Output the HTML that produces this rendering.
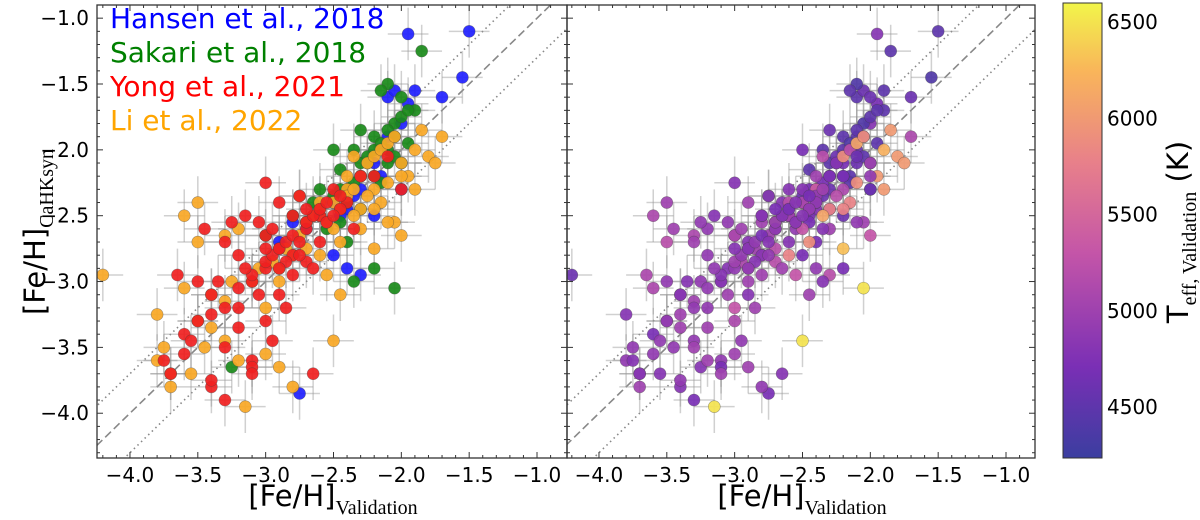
<!DOCTYPE html>
<html><head><meta charset="utf-8">
<style>
body{margin:0;background:#fff;}
svg{display:block;font-family:"DejaVu Sans","Liberation Sans",sans-serif;}
</style></head>
<body>
<svg id="chart" width="1200" height="520" viewBox="0 0 1200 520" xmlns="http://www.w3.org/2000/svg">
<defs>
<linearGradient id="plasma" x1="0" y1="1" x2="0" y2="0">
<stop offset="0" stop-color="#3b3ea0"/>
<stop offset="0.2" stop-color="#7a2fb5"/>
<stop offset="0.45" stop-color="#c455a8"/>
<stop offset="0.65" stop-color="#e8808a"/>
<stop offset="0.85" stop-color="#f9b55a"/>
<stop offset="1" stop-color="#f2f54a"/>
</linearGradient>
<clipPath id="clipL"><rect x="97" y="5" width="470" height="453"/></clipPath>
<clipPath id="clipR"><rect x="567" y="5" width="468" height="453"/></clipPath>
</defs>
<g id="left" clip-path="url(#clipL)"></g>
<g id="right" clip-path="url(#clipR)"></g>
<g id="axes"></g>
<g font-size="28">
<text x="110" y="28" fill="#0000ff">Hansen et al., 2018</text>
<text x="110" y="62" fill="#008000">Sakari et al., 2018</text>
<text x="110" y="96" fill="#ff0000">Yong et al., 2021</text>
<text x="110" y="130" fill="#ffa500">Li et al., 2022</text>
</g>
<rect x="1063" y="3" width="39" height="455" fill="url(#plasma)" stroke="#333" stroke-width="1"/>
<text transform="translate(45,232) rotate(-90)" text-anchor="middle" font-size="29">[Fe/H]<tspan font-family="Liberation Serif,serif" font-size="20" dy="8">CaHKsyn</tspan></text>
<text x="333" y="506" text-anchor="middle" font-size="29">[Fe/H]<tspan font-family="Liberation Serif,serif" font-size="20" dy="8">Validation</tspan></text>
<text x="802" y="506" text-anchor="middle" font-size="29">[Fe/H]<tspan font-family="Liberation Serif,serif" font-size="20" dy="8">Validation</tspan></text>
<text transform="translate(1188,232) rotate(-90)" text-anchor="middle" font-size="29">T<tspan font-family="Liberation Serif,serif" font-size="20" dy="8">eff, Validation</tspan><tspan dy="-8">  (K)</tspan></text>
</svg>
<script>
const xTicks=[-4.0,-3.5,-3.0,-2.5,-2.0,-1.5,-1.0];
const yTicks=[-1.0,-1.5,-2.0,-2.5,-3.0,-3.5,-4.0];
const cbTicks=[4500,5000,5500,6000,6500];
const hansenX=[-1.5,-1.55,-1.7,-1.9,-1.95,-2.0,-2.1,-2.2,-2.3,-2.4,-2.5,-2.6,-2.7,-2.8,-2.9,-2.5,-2.4,-2.3,-2.75,-2.2,-2.0,-1.95,-2.1,-2.05,-2.45,-2.35,-2.15];
const hansenY=[-1.1,-1.45,-1.6,-1.55,-1.65,-1.8,-1.9,-2.1,-2.3,-2.45,-2.4,-2.5,-2.6,-2.55,-2.7,-2.8,-2.9,-2.95,-3.85,-2.5,-2.3,-1.12,-1.6,-1.55,-2.5,-2.35,-2.2];
const hansenT=[4500,4400,4600,4500,4700,4800,4500,4700,4600,4800,4900,4700,4600,5000,4800,4700,4900,5200,4700,4600,4500,4800,4500,4600,4700,4600,4500];
const sakariX=[-1.85,-2.1,-2.15,-2.0,-1.9,-2.05,-2.1,-2.2,-2.0,-2.3,-2.35,-2.4,-2.5,-2.6,-2.45,-2.55,-2.2,-2.35,-2.05,-2.4,-2.65,-2.8,-3.0,-3.25,-2.15,-2.25,-1.95,-2.3,-2.45,-2.5,-2.3,-2.25,-2.2,-2.15,-2.1,-2.05,-2.0,-2.35,-2.4,-2.45,-2.2,-2.1,-2.3,-2.05,-1.95];
const sakariY=[-1.25,-1.5,-1.55,-1.6,-1.7,-1.8,-2.0,-1.9,-2.1,-2.2,-2.0,-2.3,-2.35,-2.3,-2.55,-2.6,-2.9,-3.0,-3.05,-2.7,-2.4,-2.5,-2.65,-3.65,-2.25,-2.1,-1.95,-1.85,-2.15,-2.0,-2.1,-2.05,-2.0,-1.95,-1.85,-1.9,-1.75,-2.25,-2.4,-2.3,-2.2,-2.1,-2.45,-2.05,-1.7];
const sakariT=[4500,4400,4500,4600,4500,4400,4600,4500,4400,4600,4500,4700,4600,4800,4700,4900,4700,4800,6500,4700,4800,4900,5000,4800,4500,4600,4500,4600,4500,4700,4500,4600,4500,4400,4500,4600,4500,4700,4600,4700,4500,4600,4700,4500,4500];
const yongX=[-3.2,-3.3,-3.1,-3.0,-2.9,-2.8,-2.7,-2.6,-3.4,-3.5,-3.6,-3.7,-3.3,-3.2,-3.0,-2.9,-3.1,-2.8,-2.5,-2.4,-2.3,-2.6,-2.7,-3.5,-3.4,-3.3,-3.2,-3.6,-3.75,-3.0,-2.95,-2.85,-3.15,-3.05,-2.75,-2.65,-2.55,-2.45,-2.2,-2.1,-3.45,-3.25,-3.35,-3.65,-3.55,-2.9,-3.0,-3.1,-2.0,-2.35,-3.4,-2.65,-3.1,
 -3.2,-3.1,-3.0,-2.95,-2.9,-2.85,-2.8,-2.75,-2.7,-2.65,-2.6,-2.55,-3.05,-3.15,-2.85,-2.75,-2.95,-3.0,-2.7,-2.8,-3.3,-3.4,-2.5,-2.45,-2.9];
const yongY=[-2.8,-2.7,-3.0,-2.9,-2.75,-2.8,-2.6,-2.5,-3.1,-3.3,-3.4,-3.7,-3.5,-3.2,-3.3,-3.1,-3.6,-2.95,-2.3,-2.4,-2.2,-2.7,-2.85,-3.0,-3.8,-3.9,-3.35,-3.55,-3.6,-2.65,-3.45,-3.2,-2.5,-2.55,-2.35,-2.9,-2.55,-2.45,-2.2,-2.05,-2.6,-2.55,-3.0,-2.95,-3.45,-2.4,-2.25,-3.65,-2.3,-2.6,-3.75,-3.7,-3.7,
 -3.05,-2.95,-2.85,-2.8,-2.75,-2.7,-2.65,-2.7,-2.55,-2.5,-2.45,-2.4,-3.1,-2.9,-2.85,-2.8,-2.6,-2.75,-2.45,-2.5,-3.2,-3.25,-2.5,-2.35,-2.9];
const yongT=[4900,5000,4800,4900,5100,4800,4900,5000,4800,4900,4700,4800,5000,4900,5100,4800,4900,5000,4800,4900,4700,4800,5200,4900,4800,4700,5000,4900,4800,5100,4900,5000,4800,4900,4700,5000,4800,4900,4700,4600,5000,4900,4800,5100,4900,5000,4800,4700,4600,4800,4900,4800,5000,
 4900,4800,5000,4900,4800,4900,4700,4800,4900,4800,4700,4800,5000,4900,4800,4900,5000,4800,4700,4800,4900,5000,4800,4700,4900];
const liX=[-4.2,-3.8,-3.7,-3.75,-3.5,-3.4,-3.3,-3.2,-3.6,-3.5,-3.1,-3.0,-2.9,-2.8,-2.7,-2.6,-2.5,-2.4,-2.3,-2.2,-2.1,-2.0,-1.9,-1.8,-1.7,-2.5,-2.45,-2.55,-3.2,-3.0,-2.8,-2.6,-3.4,-3.3,-2.9,-2.7,-2.35,-2.25,-2.15,-2.05,-1.95,-2.45,-2.75,-3.6,-3.15,-2.9,-2.4,-1.85,-2.0,-2.6,-3.55,-1.75,-2.2,
 -2.4,-2.35,-2.3,-2.25,-2.2,-2.6,-2.65,-2.7,-2.5,-2.45,-2.15,-2.1,-2.05,-2.0,-3.5,-3.45,-3.7,-3.8,-2.85,-2.95,-3.05,-2.55,-2.3,-2.2,-1.9,-2.1,-3.3,-3.25,-2.75,-2.35];
const liY=[-2.95,-3.25,-3.8,-3.5,-2.4,-3.1,-3.45,-3.6,-2.5,-2.7,-3.0,-3.2,-2.9,-2.8,-2.75,-2.5,-2.6,-2.2,-2.45,-2.3,-2.25,-2.1,-2.0,-2.05,-1.9,-3.45,-3.1,-2.95,-2.6,-3.55,-3.8,-2.4,-3.35,-2.65,-3.0,-2.55,-2.5,-2.35,-2.4,-2.55,-2.2,-2.7,-2.35,-3.05,-3.95,-3.65,-2.3,-1.85,-2.65,-2.8,-3.7,-2.1,-2.75,
 -2.35,-2.3,-2.2,-2.1,-2.05,-2.45,-2.5,-2.55,-2.4,-2.45,-2.0,-1.95,-1.9,-2.2,-3.3,-3.5,-3.7,-3.6,-2.75,-2.85,-2.9,-2.55,-2.6,-2.45,-2.3,-2.55,-3.15,-3.0,-2.65,-2.05];
const liT=[4600,4800,5000,4900,5000,5100,4900,5000,5100,5200,5000,5300,5100,5400,5200,5000,5300,5000,5800,5100,5900,5000,6200,6000,5100,6500,5000,5300,4900,5000,4900,5200,5000,5100,5000,5400,6100,5200,5800,5000,6000,5900,6300,5100,6500,5000,5400,6000,5300,5800,4800,6000,6300,
 4900,5000,5200,4800,5900,5000,4900,6400,5100,5000,5200,6100,5900,4900,5000,4900,5100,4900,5000,5100,4800,5500,5000,5800,6000,4900,5000,4900,5000,5200];

const PL=97,PR=567,yT=5,yB=458;
const xmin=-4.243,xmax=-0.779,ymin=-4.34,ymax=-0.9;
function sx(v,off){return PL+off+(v-xmin)/(xmax-xmin)*(PR-PL);}
function sy(v){return yB-(v-ymin)/(ymax-ymin)*(yB-yT);}
const tmin=4235,tmax=6600;
function sT(t){return 458-(t-tmin)/(tmax-tmin)*455;}
const NS="http://www.w3.org/2000/svg";
function mk(tag,attrs,parent){const e=document.createElementNS(NS,tag);for(const k in attrs)e.setAttribute(k,attrs[k]);parent.appendChild(e);return e;}
const stops=[[0,[59,62,160]],[0.2,[122,47,181]],[0.45,[196,85,168]],[0.65,[232,128,138]],[0.85,[249,181,90]],[1,[242,245,74]]];
function cmap(t){let f=(t-tmin)/(tmax-tmin);f=Math.max(0,Math.min(1,f));for(let i=1;i<stops.length;i++){if(f<=stops[i][0]){const a=stops[i-1],b=stops[i];const u=(f-a[0])/(b[0]-a[0]);const c=a[1].map((v,j)=>Math.round(v+(b[1][j]-v)*u));return `rgb(${c})`;}}return 'rgb(242,245,74)';}

const groups=[[hansenX,hansenY,hansenT,'#2020ff','hansen'],[sakariX,sakariY,sakariT,'#1a8a1a','sakari'],[liX,liY,liT,'#f9a825','li'],[yongX,yongY,yongT,'#f02020','yong']];
['left','right'].forEach((side,si)=>{
 const g=document.getElementById(side);const off=si?469:0;
 const lnD=mk('line',{x1:sx(-4.5,off),y1:sy(-4.5),x2:sx(-0.5,off),y2:sy(-0.5),stroke:'#888','stroke-width':1.6,'stroke-dasharray':'8,4'},g);
 
 
 [0.3,-0.3].forEach(d=>{const l=mk('line',{x1:sx(-4.5,off),y1:sy(-4.5+d),x2:sx(-0.5,off),y2:sy(-0.5+d),stroke:'#888','stroke-width':1.6,'stroke-dasharray':'1.5,3.5'},g);
 
 });
 groups.forEach(([X,Y])=>{X.forEach((x,i)=>{
  const eb=mk('path',{d:`M${sx(x-0.15,off)},${sy(Y[i])}H${sx(x+0.15,off)}M${sx(x,off)},${sy(Y[i]-0.2)}V${sy(Y[i]+0.2)}`,stroke:'rgba(150,150,150,0.45)','stroke-width':1.5,fill:'none'},g);
  
  
 });});
 groups.forEach(([X,Y,T,col,nm])=>{X.forEach((x,i)=>{
  const c=mk('circle',{cx:sx(x,off),cy:sy(Y[i]),r:6,fill:si?cmap(T[i]):col,stroke:'rgba(60,60,60,0.5)','stroke-width':0.6,opacity:0.92},g);
  
  
 });});
});
const ax=document.getElementById('axes');
[[97,567,0],[567,1035,469]].forEach(([a,b,off],pi)=>{
 const fr=mk('rect',{x:a,y:yT,width:b-a,height:yB-yT,fill:'none',stroke:'#333','stroke-width':1.3},ax);
 
 
 for(let v=-4.2;v<=-0.8;v+=0.1){const X=sx(v,off);if(X<a||X>b)continue;const major=Math.abs(v*2-Math.round(v*2))<1e-6;const L=major?6:3;
  mk('line',{x1:X,y1:yB,x2:X,y2:yB-L,stroke:'#333'},ax);mk('line',{x1:X,y1:yT,x2:X,y2:yT+L,stroke:'#333'},ax);}
 for(let v=-4.3;v<=-0.95;v+=0.1){const Y=sy(v);const major=Math.abs(v*2-Math.round(v*2))<1e-6;const L=major?6:3;
  mk('line',{x1:a,y1:Y,x2:a+L,y2:Y,stroke:'#333'},ax);mk('line',{x1:b,y1:Y,x2:b-L,y2:Y,stroke:'#333'},ax);}
 xTicks.forEach(t=>{const e=mk('text',{x:sx(t,off),y:482,'text-anchor':'middle','font-size':20},ax);e.textContent=t.toFixed(1).replace('-','\u2212');
  
  });
});
yTicks.forEach(t=>{const e=mk('text',{x:89,y:sy(t)+7,'text-anchor':'end','font-size':20},ax);e.textContent=t.toFixed(1).replace('-','\u2212');
 
 });
cbTicks.forEach(t=>{mk('line',{x1:1102,y1:sT(t),x2:1096,y2:sT(t),stroke:'#333'},ax);
 const e=mk('text',{x:1107,y:sT(t)+7,'font-size':20},ax);e.textContent=t;
 
 });
for(let t=4300;t<=6600;t+=100){if(t%500)mk('line',{x1:1102,y1:sT(t),x2:1099,y2:sT(t),stroke:'#333'},ax);}
</script>
</body></html>
